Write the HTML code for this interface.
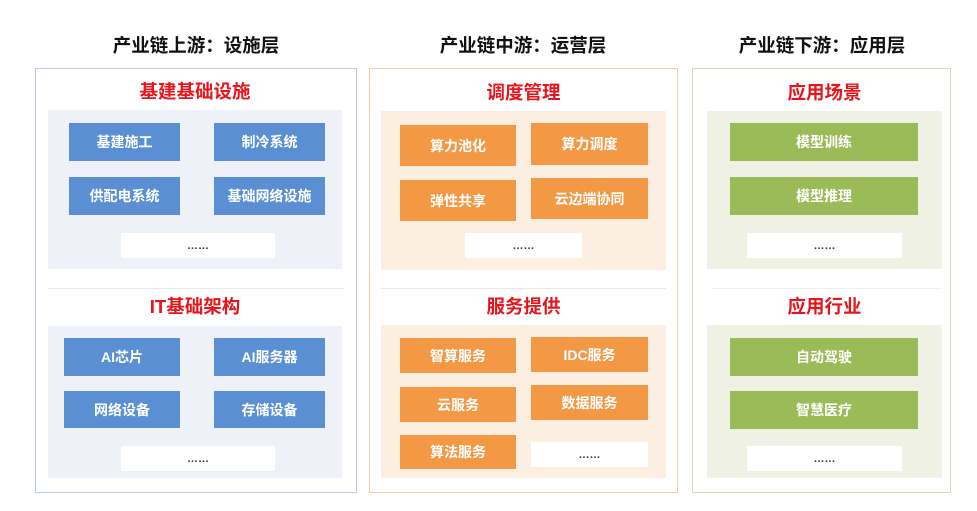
<!DOCTYPE html>
<html><head><meta charset="utf-8"><style>
*{margin:0;padding:0;box-sizing:border-box}
body{width:977px;height:511px;background:#fff;position:relative;overflow:hidden;font-family:"Liberation Sans","Noto Sans CJK SC",sans-serif}
.a{position:absolute}
.h{font-size:18.5px;font-weight:bold;color:#111;text-align:center;line-height:22px}
.t{font-size:18.5px;font-weight:bold;color:#e8141b;text-align:center;line-height:22px}
.b{display:flex;align-items:center;justify-content:center;color:#fff;font-size:14px;font-weight:bold}
.bl{background:#5a8fd4}.or{background:#f39845}.gr{background:#9bbb59}
.w{background:#fff;color:#333;font-size:11px;font-weight:bold;display:flex;align-items:center;justify-content:center}
.dv{height:1px}
</style></head><body>
<div class="a h" style="left:96px;top:35px;width:200px">产业链上游：设施层</div>
<div class="a h" style="left:423px;top:35px;width:200px">产业链中游：运营层</div>
<div class="a h" style="left:722px;top:35px;width:200px">产业链下游：应用层</div>

<div class="a" style="left:35px;top:68px;width:322px;height:425px;border:1.5px solid #bccbdd"></div>
<div class="a t" style="left:48px;top:81px;width:294px">基建基础设施</div>
<div class="a" style="left:48px;top:110px;width:294px;height:159px;background:#eef2f8"></div>
<div class="a b bl" style="left:69px;top:123px;width:111px;height:38px">基建施工</div>
<div class="a b bl" style="left:214px;top:123px;width:111px;height:38px">制冷系统</div>
<div class="a b bl" style="left:69px;top:177px;width:111px;height:38px">供配电系统</div>
<div class="a b bl" style="left:214px;top:177px;width:111px;height:38px">基础网络设施</div>
<div class="a w" style="left:121px;top:233px;width:154px;height:25px">……</div>
<div class="a dv" style="left:48px;top:288px;width:296px;background:#e6eaf0"></div>
<div class="a t" style="left:48px;top:296px;width:294px">IT基础架构</div>
<div class="a" style="left:48px;top:326px;width:294px;height:152px;background:#eef2f8"></div>
<div class="a b bl" style="left:64px;top:338px;width:116px;height:38px">AI芯片</div>
<div class="a b bl" style="left:214px;top:338px;width:111px;height:38px">AI服务器</div>
<div class="a b bl" style="left:64px;top:391px;width:116px;height:37px">网络设备</div>
<div class="a b bl" style="left:214px;top:391px;width:111px;height:37px">存储设备</div>
<div class="a w" style="left:121px;top:446px;width:154px;height:25px">……</div>

<div class="a" style="left:369px;top:68px;width:309px;height:425px;border:1.5px solid #f4c9a4"></div>
<div class="a t" style="left:381px;top:82px;width:285px">调度管理</div>
<div class="a" style="left:381px;top:111px;width:285px;height:159px;background:#fdeee2"></div>
<div class="a b or" style="left:400px;top:125px;width:116px;height:41px">算力池化</div>
<div class="a b or" style="left:531px;top:123px;width:117px;height:42px">算力调度</div>
<div class="a b or" style="left:400px;top:180px;width:116px;height:41px">弹性共享</div>
<div class="a b or" style="left:531px;top:178px;width:117px;height:41px">云边端协同</div>
<div class="a w" style="left:465px;top:233px;width:117px;height:25px">……</div>
<div class="a dv" style="left:381px;top:288px;width:285px;background:#f6e6d8"></div>
<div class="a t" style="left:381px;top:296px;width:285px">服务提供</div>
<div class="a" style="left:381px;top:325px;width:285px;height:153px;background:#fdeee2"></div>
<div class="a b or" style="left:400px;top:338px;width:116px;height:35px">智算服务</div>
<div class="a b or" style="left:531px;top:337px;width:117px;height:35px">IDC服务</div>
<div class="a b or" style="left:400px;top:387px;width:116px;height:35px">云服务</div>
<div class="a b or" style="left:531px;top:385px;width:117px;height:35px">数据服务</div>
<div class="a b or" style="left:400px;top:435px;width:116px;height:34px">算法服务</div>
<div class="a w" style="left:531px;top:442px;width:117px;height:25px">……</div>

<div class="a" style="left:692px;top:68px;width:259px;height:425px;border:1.5px solid #d2dcbc"></div>
<div class="a t" style="left:707px;top:82px;width:235px">应用场景</div>
<div class="a" style="left:707px;top:111px;width:235px;height:158px;background:#eef1e4"></div>
<div class="a b gr" style="left:730px;top:123px;width:188px;height:38px">模型训练</div>
<div class="a b gr" style="left:730px;top:177px;width:188px;height:38px">模型推理</div>
<div class="a w" style="left:747px;top:233px;width:155px;height:25px">……</div>
<div class="a dv" style="left:712px;top:288px;width:230px;background:#eef1e8"></div>
<div class="a t" style="left:707px;top:296px;width:235px">应用行业</div>
<div class="a" style="left:707px;top:325px;width:235px;height:153px;background:#eef1e4"></div>
<div class="a b gr" style="left:730px;top:338px;width:188px;height:38px">自动驾驶</div>
<div class="a b gr" style="left:730px;top:391px;width:188px;height:38px">智慧医疗</div>
<div class="a w" style="left:747px;top:446px;width:155px;height:25px">……</div>
</body></html>
